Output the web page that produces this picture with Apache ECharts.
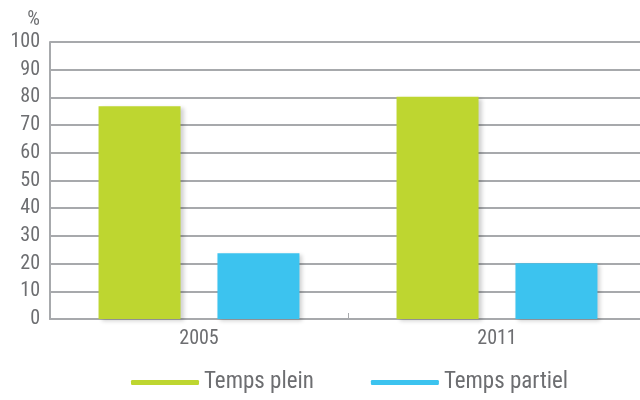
<!DOCTYPE html>
<html>
<head>
<meta charset="utf-8">
<script src="https://cdn.jsdelivr.net/npm/echarts@6/dist/echarts.min.js"></script>
<style>
  html, body { margin: 0; padding: 0; background: #fff; overflow: hidden; }
  #chart { width: 646px; height: 400px; }
</style>
</head>
<body>
<div id="chart"></div>
<script>
const years = ['2005', '2011']
const tempsPlein = [76.8, 80.2]
const tempsPartiel = [23.7, 20.1]
const seriesNames = ['Temps plein', 'Temps partiel']

const font = '"Roboto Condensed", "Liberation Sans Narrow", "DejaVu Sans Condensed", Roboto, sans-serif'
const gray = '#a7a9ac'
const textGray = '#6d6e71'

const chart = echarts.init(document.getElementById('chart'))

const barShadow = {
  shadowColor: 'rgba(0, 0, 0, 0.18)',
  shadowBlur: 4,
  shadowOffsetX: 3,
  shadowOffsetY: 2
}

chart.setOption({
  animation: false,
  textStyle: { fontFamily: font },
  grid: { left: 50, top: 42, right: 0, bottom: 81, containLabel: false },
  legend: {
    bottom: 1,
    left: 126,
    itemWidth: 68,
    itemHeight: 5,
    itemGap: 57,
    icon: 'roundRect',
    textStyle: { fontFamily: font, fontSize: 23, color: textGray },
    data: seriesNames
  },
  xAxis: {
    type: 'category',
    data: years,
    axisLine: { lineStyle: { color: gray, width: 2 } },
    axisTick: { show: true, inside: true, length: 6, lineStyle: { color: gray } },
    axisLabel: { fontFamily: font, fontSize: 20, color: textGray, margin: 10 }
  },
  yAxis: {
    type: 'value',
    min: 0,
    max: 100,
    interval: 10,
    name: '%',
    nameLocation: 'end',
    nameGap: 12,
    nameTextStyle: { fontFamily: font, fontSize: 20, color: textGray, align: 'right', padding: [0, 10, 0, 0] },
    axisLine: { show: true, lineStyle: { color: gray, width: 2 } },
    axisTick: { show: false },
    splitLine: { lineStyle: { color: gray, width: 2 } },
    axisLabel: { fontFamily: font, fontSize: 20, color: textGray, margin: 10 }
  },
  series: [
    {
      name: seriesNames[0],
      type: 'bar',
      data: tempsPlein,
      barWidth: 82,
      barGap: '45%',
      itemStyle: Object.assign({ color: '#bed630' }, barShadow)
    },
    {
      name: seriesNames[1],
      type: 'bar',
      data: tempsPartiel,
      barWidth: 82,
      itemStyle: Object.assign({ color: '#3cc3ef' }, barShadow)
    }
  ]
})
</script>
</body>
</html>
